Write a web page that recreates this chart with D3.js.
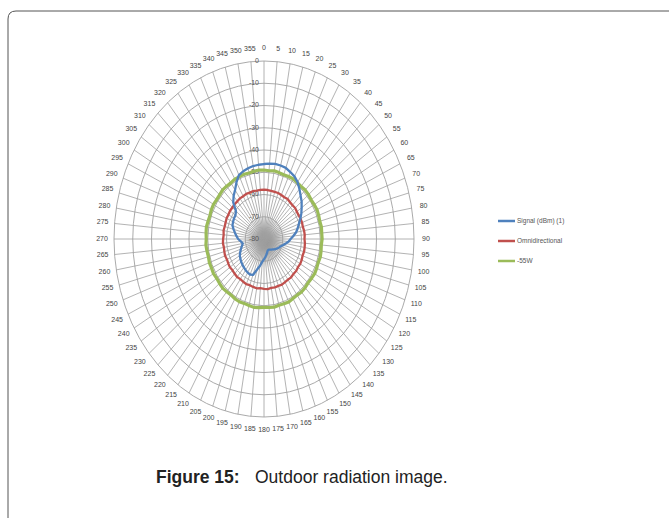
<!DOCTYPE html>
<html>
<head>
<meta charset="utf-8">
<script src="https://cdn.jsdelivr.net/npm/d3@7"></script>
<style>
  body { margin:0; background:#fff; }
  svg { display:block; font-family:"Liberation Sans", Arial, sans-serif; }
</style>
</head>
<body>
<div id="vis-container"></div>
<script>
// angle categories, one spoke every 5 degrees
const angles = d3.range(0, 360, 5);

// radial axis ticks (dBm)
const ringTicks = [0, -10, -20, -30, -40, -50, -60, -70, -80];

// series, one value per angle (0,5,...,355)
const signal = [
  -46.3,-46.0,-45.7,-45.8,-46.0,-46.8,-47.5,-48.8,-50.6,-52.4,-53.8,-55.5,
  -57.0,-58.6,-60.2,-61.4,-62.6,-64.3,-65.8,-66.8,-68.2,-69.4,-70.5,-71.0,
  -71.6,-72.3,-72.8,-73.4,-73.8,-74.2,-74.5,-74.6,-74.4,-73.6,-72.8,-71.8,
  -70.9,-69.8,-67.8,-65.8,-62.8,-62.4,-62.6,-62.9,-63.3,-63.7,-64.1,-64.6,
  -65.1,-66.0,-66.9,-67.8,-68.5,-67.6,-66.2,-65.3,-64.3,-63.2,-62.1,-61.8,
  -61.5,-61.4,-60.5,-56.8,-54.8,-53.1,-50.6,-48.3,-47.6,-47.1,-46.7,-46.5
];
const omni = [
  -57.8,-57.9,-58.0,-58.1,-58.0,-58.2,-58.3,-58.1,-58.4,-58.5,-58.3,-58.6,
  -58.7,-58.5,-58.4,-58.6,-58.3,-58.2,-58.4,-58.1,-58.0,-57.9,-58.1,-57.8,
  -57.7,-57.9,-57.6,-57.8,-57.5,-57.7,-57.6,-57.4,-57.6,-57.5,-57.7,-57.4,
  -57.6,-57.8,-57.5,-57.7,-57.9,-57.6,-57.8,-58.0,-57.7,-57.9,-58.1,-57.8,
  -58.0,-58.2,-57.9,-58.1,-58.3,-58.0,-58.2,-58.4,-58.1,-58.3,-58.2,-58.0,
  -58.1,-57.9,-58.0,-57.8,-57.9,-57.7,-57.8,-57.6,-57.8,-57.7,-57.9,-57.8
];
const ref55 = [
  -49.0,-49.2,-48.9,-49.1,-49.3,-49.0,-48.8,-49.1,-49.2,-48.9,-49.0,-49.3,
  -49.1,-48.8,-49.0,-49.2,-48.9,-49.1,-49.0,-49.3,-49.1,-48.9,-49.2,-49.0,
  -48.8,-49.1,-49.3,-49.0,-48.9,-49.2,-49.1,-48.8,-49.0,-49.2,-48.9,-49.1,
  -49.3,-49.0,-48.8,-49.1,-49.2,-48.9,-49.0,-49.3,-49.1,-48.8,-49.0,-49.2,
  -48.9,-49.1,-49.0,-49.3,-49.1,-48.9,-49.2,-49.0,-48.8,-49.1,-49.3,-49.0,
  -48.9,-49.2,-49.1,-48.8,-49.0,-49.2,-48.9,-49.1,-49.0,-49.3,-49.1,-48.9
];

const seriesNames = ["Signal (dBm) (1)", "Omnidirectional", "-55W"];
const seriesColors = ["#4f81bd", "#c0504d", "#9bbb59"];
const seriesWidths = [2.3, 2.3, 3.2];

let W = 669, H = 518;
let cx = 264, cy = 239;   // centre of the radar
let rx = 150, ry = 178;   // outer ring radii (chart is squashed horizontally)

let svg = d3.select("#vis-container")
  .append("svg")
  .attr("width", W)
  .attr("height", H);

//frame with rounded corner, running off the page right and bottom
svg.append("path")
  .attr("d", "M8,560 V19 Q8,11 16,11 H700")
  .attr("fill", "none")
  .attr("stroke", "#555")
  .attr("stroke-width", 1);

//scales
let r = d3.scaleLinear().domain([-80, 0]).range([0, 1]);
let a = d3.scaleLinear().domain([0, 360]).range([0, 2 * Math.PI]);

function px(deg, v){ return cx + rx * r(v) * Math.sin(a(deg)); }
function py(deg, v){ return cy - ry * r(v) * Math.cos(a(deg)); }

let g = svg.append("g");

//grey blob where the spokes pile up
let defs = svg.append("defs");
let grad = defs.append("radialGradient").attr("id", "blob");
grad.append("stop").attr("offset", "0%").attr("stop-color", "#666").attr("stop-opacity", 0.9);
grad.append("stop").attr("offset", "40%").attr("stop-color", "#888").attr("stop-opacity", 0.6);
grad.append("stop").attr("offset", "100%").attr("stop-color", "#aaa").attr("stop-opacity", 0);
g.append("ellipse")
  .attr("cx", cx + 2).attr("cy", cy + 3)
  .attr("rx", 22).attr("ry", 26)
  .attr("fill", "url(#blob)");

//rings
g.selectAll(".ring")
  .data(ringTicks.slice(0, -1))
  .enter().append("ellipse")
    .attr("class", "ring")
    .attr("cx", cx).attr("cy", cy)
    .attr("rx", d => rx * r(d))
    .attr("ry", d => ry * r(d))
    .attr("fill", "none")
    .attr("stroke", "#a0a0a0")
    .attr("stroke-width", 0.9);

//spokes
g.selectAll(".spoke")
  .data(angles)
  .enter().append("line")
    .attr("class", "spoke")
    .attr("x1", cx).attr("y1", cy)
    .attr("x2", d => px(d, 0))
    .attr("y2", d => py(d, 0))
    .attr("stroke", "#a0a0a0")
    .attr("stroke-width", 0.8);

//angle labels
g.selectAll(".angle-label")
  .data(angles)
  .enter().append("text")
    .attr("class", "angle-label")
    .attr("x", d => cx + (rx + 12) * Math.sin(a(d)))
    .attr("y", d => cy - (ry + 13) * Math.cos(a(d)))
    .attr("text-anchor", "middle")
    .attr("dominant-baseline", "middle")
    .attr("font-size", "7px")
    .attr("fill", "#444")
    .text(d => d);

//radial axis labels along the 0 spoke
g.selectAll(".ring-label")
  .data(ringTicks)
  .enter().append("text")
    .attr("class", "ring-label")
    .attr("x", cx - 5)
    .attr("y", d => py(0, d))
    .attr("text-anchor", "end")
    .attr("dominant-baseline", "middle")
    .attr("font-size", "7px")
    .attr("fill", "#555")
    .text(d => d);

//series lines
let allSeries = [signal, omni, ref55];
let line = d3.line()
  .x((v, i) => px(angles[i], v))
  .y((v, i) => py(angles[i], v))
  .curve(d3.curveLinearClosed);

g.selectAll(".series")
  .data(allSeries.slice().reverse())
  .enter().append("path")
    .attr("class", "series")
    .attr("d", line)
    .attr("fill", "none")
    .attr("stroke", (d, i) => seriesColors[2 - i])
    .attr("stroke-width", (d, i) => seriesWidths[2 - i])
    .attr("stroke-linejoin", "round");

//legend
let legend = svg.append("g")
  .attr("transform", "translate(498,221)");
let items = legend.selectAll(".item")
  .data(seriesNames)
  .enter().append("g")
    .attr("class", "item")
    .attr("transform", (d, i) => `translate(0,${i * 20})`);
items.append("line")
  .attr("x1", 0).attr("x2", 17)
  .attr("stroke", (d, i) => seriesColors[i])
  .attr("stroke-width", 2.5);
items.append("text")
  .attr("x", 19)
  .attr("dominant-baseline", "middle")
  .attr("font-size", "6.5px")
  .attr("fill", "#555")
  .text(d => d);

//caption
let cap = svg.append("text")
  .attr("x", 156)
  .attr("y", 483)
  .attr("font-size", "17.5px")
  .attr("fill", "#222");
cap.append("tspan").attr("font-weight", "bold").text("Figure 15:");
cap.append("tspan").attr("x", 255).text("Outdoor radiation image.");
</script>
</body>
</html>
